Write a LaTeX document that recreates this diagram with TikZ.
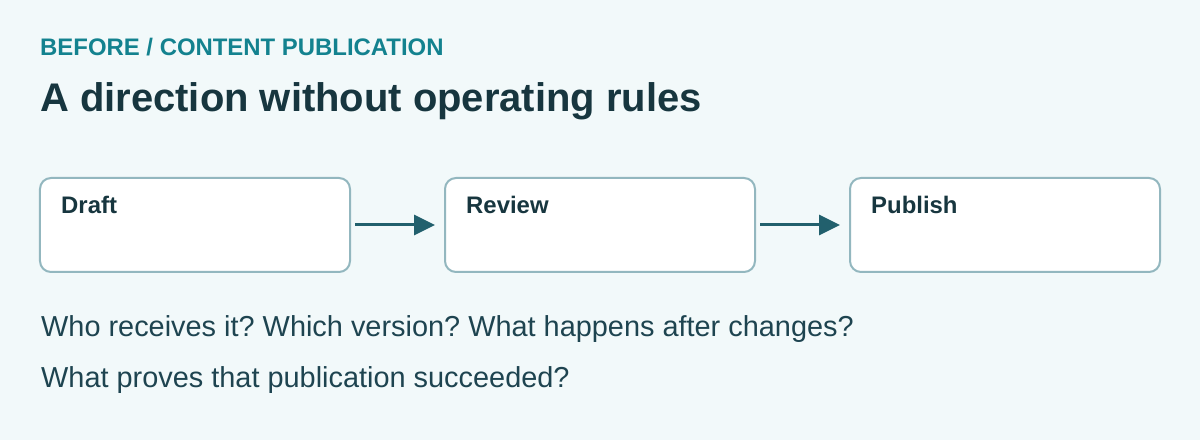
\documentclass[tikz,border=0pt]{standalone}
\usepackage{fontspec}
\setmainfont{Liberation Sans}
\usepackage{xcolor}
\usetikzlibrary{arrows.meta,positioning}
\frenchspacing

\definecolor{pagebg}{HTML}{F2F9FA}
\definecolor{kicker}{HTML}{13828F}
\definecolor{ink}{HTML}{17363F}
\definecolor{bodyink}{HTML}{1E4450}
\definecolor{edge}{HTML}{93B7BF}
\definecolor{flow}{HTML}{22606D}

\begin{document}
\begin{tikzpicture}[
    x=1bp,y=-1bp,
    stage/.style={rectangle,draw=edge,line width=2bp,fill=white,rounded corners=11bp,minimum width=310bp,minimum height=94bp,inner sep=0pt,outer sep=0pt},
    stagename/.style={anchor=base west,inner sep=0pt,text=ink,font=\fontsize{24}{28}\selectfont\bfseries},
    question/.style={anchor=base west,inner sep=0pt,text=bodyink,font=\fontsize{29}{34}\selectfont},
    arrow/.style={-{Triangle[length=21bp,width=20bp]},line width=3bp,draw=flow}
]
    % Page
    \fill[pagebg] (0,0) rectangle (1200,440);
    \useasboundingbox (0,0) rectangle (1200,440);

    % Heading
    \node[anchor=base west,inner sep=0pt,text=kicker,font=\fontsize{24}{28}\selectfont\bfseries] (kicker) at (40,56) {BEFORE / CONTENT PUBLICATION};
    \node[anchor=base west,inner sep=0pt,text=ink,font=\fontsize{40.1}{46}\selectfont\bfseries] (title) at (40,112) {A direction without operating rules};

    % Stages
    \node[stage] (draft) at (195,225) {};
    \node[stage,right=95bp of draft] (review) {};
    \node[stage,right=95bp of review] (publish) {};

    \node[stagename] (draftname) at ([shift={(21,36)}]draft.north west) {Draft};
    \node[stagename] (reviewname) at ([shift={(21,36)}]review.north west) {Review};
    \node[stagename] (publishname) at ([shift={(21,36)}]publish.north west) {Publish};

    % Flow
    \draw[arrow,shorten <=5bp,shorten >=10bp] (draft) -- (review);
    \draw[arrow,shorten <=5bp,shorten >=10bp] (review) -- (publish);

    % Open questions
    \node[question] (ask1) at (41,337) {Who receives it? Which version? What happens after changes?};
    \node[question] (ask2) at (41,388) {What proves that publication succeeded?};
\end{tikzpicture}
\end{document}
